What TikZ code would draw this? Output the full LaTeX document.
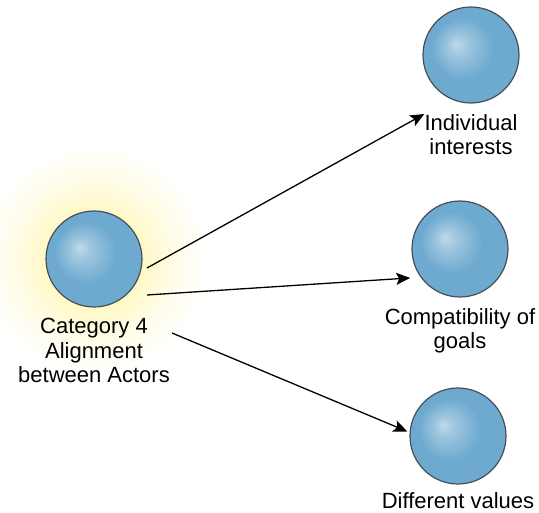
\documentclass[tikz,border=0pt]{standalone}
\usepackage{fontspec}
\setmainfont{Liberation Sans}
\usetikzlibrary{positioning,arrows.meta}

\definecolor{ballblue}{RGB}{110,170,208}
\definecolor{ballhi}{RGB}{190,218,232}
\definecolor{balledge}{RGB}{70,78,88}
\definecolor{glowc}{RGB}{255,249,200}
\colorlet{ballmid}{ballhi!55!ballblue}
\colorlet{balldark}{ballblue!88!black}
\pgfdeclareradialshading{bubble}{\pgfpoint{-8bp}{6bp}}{color(0bp)=(ballhi); color(6bp)=(ballmid); color(16bp)=(ballblue); color(28bp)=(ballblue); color(36bp)=(balldark)}
\pgfdeclareradialshading{glow}{\pgfpointorigin}{color(0bp)=(glowc); color(11bp)=(glowc); color(17bp)=(glowc!45!white); color(25bp)=(white)}

\tikzset{
  ball/.style={circle, minimum size=96pt, inner sep=0pt, outer sep=0pt,
    draw=balledge, line width=1.2pt, shading=bubble},
  lbl/.style={align=center, inner sep=0pt, font=\fontsize{22}{24.5}\selectfont},
  link/.style={line width=1.3pt, -{Stealth[length=14pt,width=12pt,inset=3pt]}}
}

\begin{document}
\begin{tikzpicture}[x=1pt,y=1pt]
\useasboundingbox (0,0) rectangle (539,-513);
\coordinate (c0) at (94,-259);
\shade[shading=glow] (c0) circle (115pt);
\node[ball] (cat) at (c0) {};
\node[ball, on grid, above right=204pt and 377pt of cat] (indiv) {};
\node[ball, on grid, above right=10pt and 366pt of cat] (compat) {};
\node[ball, on grid, below right=177pt and 364pt of cat] (diff) {};
\node[lbl, below=11pt of cat] (catlbl) {Category 4\\Alignment\\between Actors};
\node[lbl, below=11pt of indiv] (indivlbl) {Individual\\interests};
\node[lbl, below=11pt of compat] (compatlbl) {Compatibility of\\goals};
\node[lbl, below=8pt of diff] (difflbl) {Different values};
\coordinate (s1) at ([shift={(53,-9)}]cat.center);
\coordinate (s2) at ([shift={(53,-36)}]cat.center);
\coordinate (s3) at ([shift={(78,-74)}]cat.center);
\draw[link] (s1) -- (indivlbl.north west);
\draw[link, shorten >=11pt] (s2) -- (compat.216);
\draw[link, shorten >=3pt] (s3) -- (diff.176);
\end{tikzpicture}
\end{document}
